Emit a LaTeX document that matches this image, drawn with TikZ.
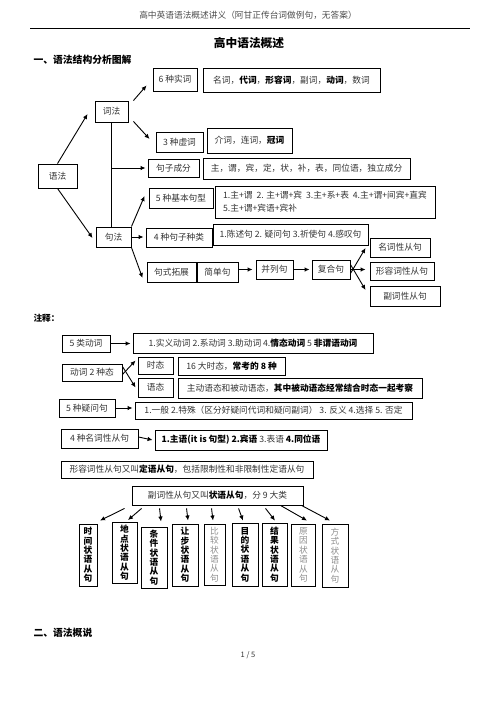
\documentclass[tikz,border=0pt]{standalone}
\usepackage{fontspec}
\setmainfont{Noto Sans CJK SC}
\usetikzlibrary{arrows.meta,calc}
\newcommand\fs{\fontsize{8.7}{10.5}\selectfont}
\newcommand\vfs{\fontsize{8.7}{9.4}\selectfont}
\newcommand\B[1]{{\bfseries\color{black}#1}}
\tikzset{
 box/.style={draw, line width=0.9pt, inner sep=0pt, font=\fs, text=black!80},
 vbox/.style={box, align=center, minimum width=24, minimum height=62, font=\vfs},
 arr/.style={-{Latex[length=5pt,width=4.5pt]}, line width=0.9pt},
 ln/.style={line width=0.9pt}
}
\begin{document}
\begin{tikzpicture}[x=1pt,y=-1pt]
\useasboundingbox (0,0) rectangle (496,702);
% header
\node[font=\fs, text=black!70] (hdr) at (248,15) {高中英语语法概述讲义（阿甘正传台词做例句，无答案）};
\coordinate (rl) at (30,28); \coordinate (rr) at (470,28);
\draw[line width=0.8pt] (rl) -- (rr);
\node[font=\fontsize{11.7}{13}\selectfont\bfseries] (title) at (249,43) {高中语法概述};
\node[font=\fontsize{9.8}{12}\selectfont\bfseries, anchor=west] (sec1) at (30,60) {一、语法结构分析图解};

% main tree
\node[box, minimum width=39, minimum height=24] (yufa) at (57.5,176) {语法};
\node[box, minimum width=33, minimum height=21] (cifa) at (111.5,111.5) {词法};
\node[box, minimum width=35, minimum height=20] (jufa) at (113.5,237) {句法};
\node[box, minimum width=44, minimum height=23] (shici) at (175,79.5) {6 种实词};
\node[box, minimum width=177, minimum height=24] (shicic) at (291.5,80) {名词，\B{代词}，\B{形容词}，副词，\B{动词}，数词};
\node[box, minimum width=47, minimum height=20] (xuci) at (179.5,142) {3 种虚词};
\node[box, minimum width=85, minimum height=25] (xucic) at (249.5,140.5) {介词，连词，\B{冠词}};
\node[box, minimum width=51, minimum height=18] (jzcf) at (173.5,168) {句子成分};
\node[box, minimum width=207, minimum height=21] (jzcfc) at (306.5,168.5) {主，谓，宾，定，状，补，表，同位语，独立成分};
\node[box, minimum width=64, minimum height=20] (jbjx) at (181,198) {5 种基本句型};
\node[box, minimum width=220, minimum height=32, align=left] (jbjxc) at (325,202) {1.主+谓\ \ 2. 主+谓+宾\ \ 3.主+系+表\ \ 4.主+谓+间宾+直宾\\[2.5pt]5.主+谓+宾语+宾补\hspace{96pt}};
\node[box, minimum width=66, minimum height=19] (jzzl) at (179,237.5) {4 种句子种类};
\node[box, minimum width=155, minimum height=21] (jzzlc) at (290.5,234.5) {1.陈述句 2. 疑问句 3.祈使句 4.感叹句};
\node[box, minimum width=49, minimum height=20] (jstz) at (171.5,272) {句式拓展};
\node[box, minimum width=41, minimum height=20] (jdj) at (217.5,272) {简单句};
\node[box, minimum width=37, minimum height=19] (blj) at (274.5,269.5) {并列句};
\node[box, minimum width=38, minimum height=19] (fhj) at (331,269.5) {复合句};
\node[box, minimum width=60, minimum height=19] (mcx) at (400,247.5) {名词性从句};
\node[box, minimum width=64, minimum height=18] (xrcx) at (402,271) {形容词性从句};
\node[box, minimum width=70, minimum height=20] (fcx) at (405,296) {副词性从句};

\draw[arr] (yufa.north) -- ([shift={(-7,2.5)}]cifa.west);
\draw[arr] (yufa.south) -- ([shift={(-3,1)}]jufa.west);
\draw[arr] ([shift={(5,0)}]cifa.north east) -- ([shift={(-6,-6)}]shici.south west);
\draw[arr] ([shift={(5,-1)}]cifa.south east) -- ([shift={(-6,-3)}]xuci.west);
\draw[ln] (cifa.south) -- (cifa.south |- jufa.north);
\draw[arr] (cifa.south |- jzcf.west) -- ([xshift=-2]jzcf.west);
\draw[arr] (jufa.north east) -- ([shift={(-4,-2)}]jbjx.west);
\draw[arr] (jufa.east) -- ([xshift=-2]jzzl.west |- jufa.east);
\draw[arr] (jufa.south east) -- ([shift={(-4,6)}]jstz.west);
\draw[arr] (jdj.east |- blj.west) -- ([xshift=-3]blj.west);
\draw[arr] (blj.east) -- ([xshift=-2]fhj.west);
\draw[arr] ([yshift=-4]fhj.east) -- ([shift={(-4,0.5)}]mcx.west);
\draw[arr] (fhj.east) -- ([xshift=-4]xrcx.west |- fhj.east);
\draw[arr] ([yshift=5]fhj.east) -- ([shift={(-4,-6)}]fcx.west);

% notes
\node[font=\fs\bfseries, anchor=west] (zs) at (30,318) {注释：};
\node[box, minimum width=48, minimum height=17] (dc5) at (86,343.5) {5 类动词};
\node[box, minimum width=240, minimum height=20] (dc5c) at (253,343) {1.实义动词 2.系动词 3.助动词 4.\B{情态动词} 5 \B{非谓语动词}};
\node[box, minimum width=60, minimum height=17] (dct) at (92,372.5) {动词 2 种态};
\node[box, minimum width=35, minimum height=17] (st) at (155.5,365.5) {时态};
\node[box, minimum width=107, minimum height=18] (stc) at (231.5,366) {16 大时态，\B{常考的 8 种}};
\node[box, minimum width=35, minimum height=19] (yt) at (155.5,387.5) {语态};
\node[box, minimum width=244, minimum height=20] (ytc) at (300,388) {主动语态和被动语态，\B{其中被动语态经常结合时态一起考察}};
\node[box, minimum width=56, minimum height=18] (ywj) at (87,408) {5 种疑问句};
\node[box, minimum width=277, minimum height=17] (ywjc) at (273.5,410.5) {1.一般 2.特殊（区分好疑问代词和疑问副词） 3. 反义 4.选择 5. 否定};
\node[box, minimum width=77, minimum height=19] (mccj) at (99.5,438.5) {4 种名词性从句};
\node[box, minimum width=172, minimum height=20] (mccjc) at (241,440) {\B{1.主语(it is 句型) 2.宾语} 3.表语 \B{4.同位语}};
\node[box, minimum width=252, minimum height=17] (xrc) at (187,469.5) {形容词性从句又叫\B{定语从句}，包括限制性和非限制性定语从句};
\node[box, minimum width=171, minimum height=19] (fcc) at (217.5,495.5) {副词性从句又叫\B{状语从句}，分 9 大类};

\draw[arr] (dc5.east) -- ([xshift=-2]dc5c.west |- dc5.east);
\draw[arr] ([yshift=-2]dct.east) -- ([shift={(-2,-5)}]st.west);
\draw[arr] ([yshift=6]dct.east) -- ([shift={(-2,0)}]yt.west);
\draw[arr] (ywj.east) -- ([xshift=-2]ywjc.west |- ywj.east);
\draw[arr] ([yshift=1.5]mccj.east) -- ([xshift=-2]mccjc.west |- 0,440);

% nine adverbial clause boxes
\node[vbox, text=black, font=\vfs\bfseries, minimum width=18] (a1) at (88,555) {时\\间\\状\\语\\从\\句};
\node[vbox, text=black, font=\vfs\bfseries, minimum width=25, minimum height=61] (a2) at (124.5,553) {地\\点\\状\\语\\从\\句};
\node[vbox, text=black, font=\vfs\bfseries, minimum width=26, minimum height=61] (a3) at (154,557.5) {条\\件\\状\\语\\从\\句};
\node[vbox, text=black, font=\vfs\bfseries, minimum width=26] (a4) at (185,555) {让\\步\\状\\语\\从\\句};
\node[vbox, text=black!45, minimum width=21, minimum height=61] (a5) at (214.5,554.5) {比\\较\\状\\语\\从\\句};
\node[vbox, text=black, font=\vfs\bfseries, minimum width=26, minimum height=63] (a6) at (245,554.5) {目\\的\\状\\语\\从\\句};
\node[vbox, text=black, font=\vfs\bfseries, minimum width=25, minimum height=63] (a7) at (274.5,554.5) {结\\果\\状\\语\\从\\句};
\node[vbox, text=black!45] (a8) at (303.5,555) {原\\因\\状\\语\\从\\句};
\node[vbox, text=black!45, minimum width=26, minimum height=63] (a9) at (335,555.5) {方\\式\\状\\语\\从\\句};

\draw[arr] ([shift={(-7,3)}]fcc.south west) -- ([shift={(12,-3)}]a1.north);
\draw[arr] ([shift={(10,3)}]fcc.south west) -- ([shift={(3.5,-2)}]a2.north);
\draw[arr] ([shift={(28,3)}]fcc.south west) -- ([shift={(7,-5)}]a3.north);
\draw[arr] ([shift={(55,3)}]fcc.south west) -- ([shift={(3,-3)}]a4.north);
\draw[arr] ([shift={(80,3)}]fcc.south west) -- ([shift={(-1.5,-3)}]a5.north);
\draw[arr] ([shift={(107,3)}]fcc.south west) -- ([shift={(-2,-2)}]a6.north);
\draw[arr] ([shift={(134,3)}]fcc.south west) -- ([shift={(0.5,-2)}]a7.north);
\draw[arr] ([shift={(149,0)}]fcc.south west) -- ([shift={(3.5,-3)}]a8.north);
\draw[arr] ([shift={(170,0)}]fcc.south west) -- ([shift={(-5,-3)}]a9.north);

% footer
\node[font=\fontsize{9.8}{12}\selectfont\bfseries, anchor=west] (sec2) at (30,633) {二、语法概说};
\node[font=\fontsize{7.5}{9}\selectfont, text=black!80] (pg) at (248,655) {1 / 5};
\end{tikzpicture}
\end{document}
